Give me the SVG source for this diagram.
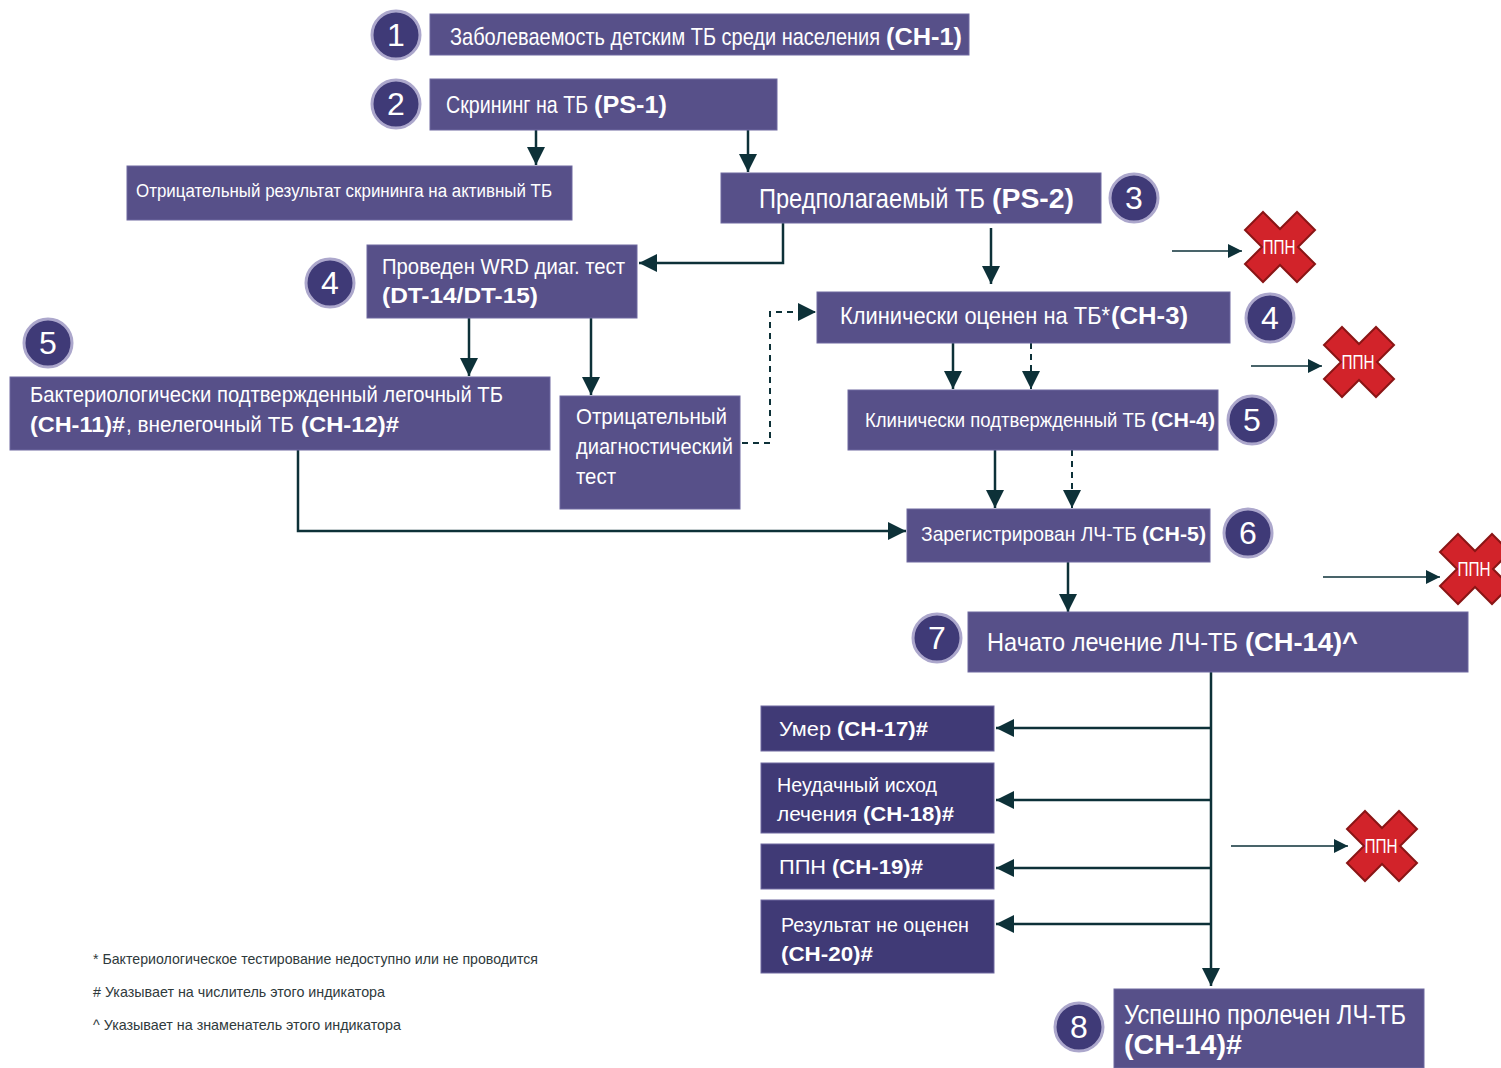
<svg xmlns="http://www.w3.org/2000/svg" width="1501" height="1068" viewBox="0 0 1501 1068">
<style>
.box{fill:#575089;stroke:#6e68a0;stroke-width:1}
.dbox{fill:#403a76;stroke:#6e68a0;stroke-width:1}
.t{font-family:"Liberation Sans Narrow","Liberation Sans",Arial,sans-serif;fill:#fff}
.b{font-weight:bold}
.num{font-family:"Liberation Sans",Arial,sans-serif;fill:#fff;font-size:32px;text-anchor:middle}
.circ{fill:#3f3a77;stroke:#aca7cc;stroke-width:3}
.ln{stroke:#0d3138;stroke-width:2.5;fill:none}
.ds{stroke:#0d3138;stroke-width:2;fill:none;stroke-dasharray:6,5}
.thin{stroke:#0d3138;stroke-width:1.6;fill:none}
.x{fill:#d2232a;stroke:#8a1515;stroke-width:2}
.xt{font-family:"Liberation Sans Narrow","Liberation Sans",Arial,sans-serif;fill:#fff;font-size:21px;text-anchor:middle}
.fn{font-family:"Liberation Sans Narrow","Liberation Sans",Arial,sans-serif;fill:#2f3a3c;font-size:15px}
</style>
<defs>
<marker id="ah" markerUnits="userSpaceOnUse" markerWidth="20" markerHeight="20" refX="18" refY="9" orient="auto"><path d="M0,0 L18,9 L0,18 z" fill="#0d3138"/></marker>
<marker id="ahs" markerUnits="userSpaceOnUse" markerWidth="16" markerHeight="16" refX="14" refY="7" orient="auto"><path d="M0,0 L14,7 L0,14 z" fill="#0d3138"/></marker>
<path id="xs" d="M-17,-35 L0,-18 L17,-35 L35,-17 L18,0 L35,17 L17,35 L0,18 L-17,35 L-35,17 L-18,0 L-35,-17 Z"/>
</defs>

<g id="connectors">
<line class="ln" x1="536" y1="130" x2="536" y2="165" marker-end="url(#ah)"/>
<line class="ln" x1="748" y1="130" x2="748" y2="172" marker-end="url(#ah)"/>
<polyline class="ln" points="783,223 783,263 639,263" marker-end="url(#ah)"/>
<line class="ln" x1="991" y1="228" x2="991" y2="284" marker-end="url(#ah)"/>
<line class="ln" x1="469" y1="318" x2="469" y2="376" marker-end="url(#ah)"/>
<line class="ln" x1="591" y1="318" x2="591" y2="395" marker-end="url(#ah)"/>
<polyline class="ds" points="742,443 770,443 770,312 816,312" marker-end="url(#ah)"/>
<line class="ln" x1="953" y1="343" x2="953" y2="389" marker-end="url(#ah)"/>
<line class="ds" x1="1031" y1="343" x2="1031" y2="389" marker-end="url(#ah)"/>
<line class="ln" x1="995" y1="450" x2="995" y2="508" marker-end="url(#ah)"/>
<line class="ds" x1="1072" y1="450" x2="1072" y2="508" marker-end="url(#ah)"/>
<polyline class="ln" points="298,450 298,531 906,531" marker-end="url(#ah)"/>
<line class="ln" x1="1068" y1="562" x2="1068" y2="612" marker-end="url(#ah)"/>
<line class="ln" x1="1211" y1="672" x2="1211" y2="986" marker-end="url(#ah)"/>
<line class="ln" x1="1211" y1="728" x2="996" y2="728" marker-end="url(#ah)"/>
<line class="ln" x1="1211" y1="800" x2="996" y2="800" marker-end="url(#ah)"/>
<line class="ln" x1="1211" y1="868" x2="996" y2="868" marker-end="url(#ah)"/>
<line class="ln" x1="1211" y1="924" x2="996" y2="924" marker-end="url(#ah)"/>
<line class="thin" x1="1172" y1="251" x2="1242" y2="251" marker-end="url(#ahs)"/>
<line class="thin" x1="1251" y1="366" x2="1322" y2="366" marker-end="url(#ahs)"/>
<line class="thin" x1="1323" y1="577" x2="1440" y2="577" marker-end="url(#ahs)"/>
<line class="thin" x1="1231" y1="846" x2="1348" y2="846" marker-end="url(#ahs)"/>
</g>

<g id="n1">
<rect class="box" x="430" y="14" width="539" height="41"/>
<text class="t" transform="translate(450,45) scale(0.82,1)" font-size="24" textLength="524.4" lengthAdjust="spacingAndGlyphs">Заболеваемость детским ТБ среди населения</text>
<text class="t b" x="886" y="45" font-size="24" textLength="76" lengthAdjust="spacingAndGlyphs">(CH-1)</text>
<circle class="circ" cx="396" cy="35" r="24"/><text class="num" x="396" y="46">1</text>
</g>
<g id="n2">
<rect class="box" x="430" y="79" width="347" height="51"/>
<text class="t" transform="translate(446,113) scale(0.82,1)" font-size="24" textLength="173.2" lengthAdjust="spacingAndGlyphs">Скрининг на ТБ</text>
<text class="t b" x="594" y="113" font-size="24" textLength="73" lengthAdjust="spacingAndGlyphs">(PS-1)</text>
<circle class="circ" cx="396" cy="104" r="24"/><text class="num" x="396" y="115">2</text>
</g>
<g id="n-neg-screen">
<rect class="box" x="127" y="166" width="445" height="54"/>
<text class="t" x="136" y="197" font-size="18" textLength="416" lengthAdjust="spacingAndGlyphs">Отрицательный результат скрининга на активный ТБ</text>
</g>
<g id="n3">
<rect class="box" x="721" y="173" width="380" height="50"/>
<text class="t" transform="translate(759,208) scale(0.82,1)" font-size="27" textLength="275.6" lengthAdjust="spacingAndGlyphs">Предполагаемый ТБ</text>
<text class="t b" x="992" y="208" font-size="27" textLength="82" lengthAdjust="spacingAndGlyphs">(PS-2)</text>
<circle class="circ" cx="1134" cy="198" r="24"/><text class="num" x="1134" y="209">3</text>
</g>
<g id="n4a">
<rect class="box" x="367" y="245" width="270" height="73"/>
<text class="t" x="382" y="274" font-size="22" textLength="243" lengthAdjust="spacingAndGlyphs">Проведен WRD диаг. тест</text>
<text class="t b" x="382" y="303" font-size="22" textLength="156" lengthAdjust="spacingAndGlyphs">(DT-14/DT-15)</text>
<circle class="circ" cx="330" cy="283" r="24"/><text class="num" x="330" y="294">4</text>
</g>
<g id="n5a">
<rect class="box" x="10" y="377" width="540" height="73"/>
<text class="t" x="30" y="402" font-size="22" textLength="473" lengthAdjust="spacingAndGlyphs">Бактериологически подтвержденный легочный ТБ</text>
<text class="t b" x="30" y="432" font-size="22" textLength="95" lengthAdjust="spacingAndGlyphs">(CH-11)#</text>
<text class="t" transform="translate(126,432) scale(0.82,1)" font-size="22" textLength="204.9" lengthAdjust="spacingAndGlyphs">, внелегочный ТБ</text>
<text class="t b" x="301" y="432" font-size="22" textLength="98" lengthAdjust="spacingAndGlyphs">(CH-12)#</text>
<circle class="circ" cx="48" cy="343" r="24"/><text class="num" x="48" y="354">5</text>
</g>
<g id="n-neg-dx">
<rect class="box" x="560" y="396" width="180" height="113"/>
<text class="t" x="576" y="424" font-size="22" textLength="151" lengthAdjust="spacingAndGlyphs">Отрицательный</text>
<text class="t" x="576" y="454" font-size="22" textLength="157" lengthAdjust="spacingAndGlyphs">диагностический</text>
<text class="t" x="576" y="484" font-size="22" textLength="40" lengthAdjust="spacingAndGlyphs">тест</text>
</g>
<g id="n4b">
<rect class="box" x="817" y="292" width="413" height="51"/>
<text class="t" transform="translate(840,324) scale(0.82,1)" font-size="24" textLength="329.3" lengthAdjust="spacingAndGlyphs">Клинически оценен на ТБ*</text>
<text class="t b" x="1111" y="324" font-size="24" textLength="77" lengthAdjust="spacingAndGlyphs">(CH-3)</text>
<circle class="circ" cx="1270" cy="318" r="24"/><text class="num" x="1270" y="329">4</text>
</g>
<g id="n5b">
<rect class="box" x="848" y="390" width="370" height="60"/>
<text class="t" transform="translate(865,427) scale(0.82,1)" font-size="20" textLength="342.7" lengthAdjust="spacingAndGlyphs">Клинически подтвержденный ТБ</text>
<text class="t b" x="1151" y="427" font-size="20" textLength="64" lengthAdjust="spacingAndGlyphs">(CH-4)</text>
<circle class="circ" cx="1252" cy="420" r="24"/><text class="num" x="1252" y="431">5</text>
</g>
<g id="n6">
<rect class="box" x="907" y="509" width="303" height="53"/>
<text class="t" transform="translate(921,541) scale(0.82,1)" font-size="20" textLength="263.4" lengthAdjust="spacingAndGlyphs">Зарегистрирован ЛЧ-ТБ</text>
<text class="t b" x="1142" y="541" font-size="20" textLength="64" lengthAdjust="spacingAndGlyphs">(CH-5)</text>
<circle class="circ" cx="1248" cy="533" r="24"/><text class="num" x="1248" y="544">6</text>
</g>
<g id="n7">
<rect class="box" x="968" y="612" width="500" height="60"/>
<text class="t" transform="translate(987,651) scale(0.82,1)" font-size="26" textLength="306.1" lengthAdjust="spacingAndGlyphs">Начато лечение ЛЧ-ТБ</text>
<text class="t b" x="1245" y="651" font-size="26" textLength="113" lengthAdjust="spacingAndGlyphs">(CH-14)^</text>
<circle class="circ" cx="937" cy="638" r="24"/><text class="num" x="937" y="649">7</text>
</g>
<g id="n-died">
<rect class="dbox" x="761" y="706" width="233" height="45"/>
<text class="t" transform="translate(779,736) scale(0.82,1)" font-size="21" textLength="63.4" lengthAdjust="spacingAndGlyphs">Умер</text>
<text class="t b" x="837" y="736" font-size="21" textLength="91" lengthAdjust="spacingAndGlyphs">(CH-17)#</text>
</g>
<g id="n-fail">
<rect class="dbox" x="761" y="763" width="233" height="70"/>
<text class="t" x="777" y="792" font-size="21" textLength="160" lengthAdjust="spacingAndGlyphs">Неудачный исход</text>
<text class="t" transform="translate(777,821) scale(0.82,1)" font-size="21" textLength="97.6" lengthAdjust="spacingAndGlyphs">лечения</text>
<text class="t b" x="863" y="821" font-size="21" textLength="91" lengthAdjust="spacingAndGlyphs">(CH-18)#</text>
</g>
<g id="n-ltfu">
<rect class="dbox" x="761" y="844" width="233" height="45"/>
<text class="t" transform="translate(779,874) scale(0.82,1)" font-size="21" textLength="57.3" lengthAdjust="spacingAndGlyphs">ППН</text>
<text class="t b" x="832" y="874" font-size="21" textLength="91" lengthAdjust="spacingAndGlyphs">(CH-19)#</text>
</g>
<g id="n-noeval">
<rect class="dbox" x="761" y="900" width="233" height="73"/>
<text class="t" x="781" y="932" font-size="21" textLength="188" lengthAdjust="spacingAndGlyphs">Результат не оценен</text>
<text class="t b" x="781" y="961" font-size="21" textLength="92" lengthAdjust="spacingAndGlyphs">(CH-20)#</text>
</g>
<g id="n8">
<rect class="box" x="1114" y="989" width="310" height="79"/>
<text class="t" x="1124" y="1024" font-size="27" textLength="282" lengthAdjust="spacingAndGlyphs">Успешно пролечен ЛЧ-ТБ</text>
<text class="t b" x="1124" y="1054" font-size="27" textLength="118" lengthAdjust="spacingAndGlyphs">(CH-14)#</text>
<circle class="circ" cx="1079" cy="1027" r="24"/><text class="num" x="1079" y="1038">8</text>
</g>

<g id="ltfu-marks">
<g transform="translate(1280,247)"><use href="#xs" class="x"/><text class="xt" x="-1" y="7" textLength="33" lengthAdjust="spacingAndGlyphs">ППН</text></g>
<g transform="translate(1359,362)"><use href="#xs" class="x"/><text class="xt" x="-1" y="7" textLength="33" lengthAdjust="spacingAndGlyphs">ППН</text></g>
<g transform="translate(1475,569)"><use href="#xs" class="x"/><text class="xt" x="-1" y="7" textLength="33" lengthAdjust="spacingAndGlyphs">ППН</text></g>
<g transform="translate(1382,846)"><use href="#xs" class="x"/><text class="xt" x="-1" y="7" textLength="33" lengthAdjust="spacingAndGlyphs">ППН</text></g>
</g>

<g id="footnotes">
<text class="fn" x="93" y="964" textLength="445" lengthAdjust="spacingAndGlyphs">* Бактериологическое тестирование недоступно или не проводится</text>
<text class="fn" x="93" y="997" textLength="292" lengthAdjust="spacingAndGlyphs"># Указывает на числитель этого индикатора</text>
<text class="fn" x="93" y="1030" textLength="308" lengthAdjust="spacingAndGlyphs">^ Указывает на знаменатель этого индикатора</text>
</g>
</svg>
